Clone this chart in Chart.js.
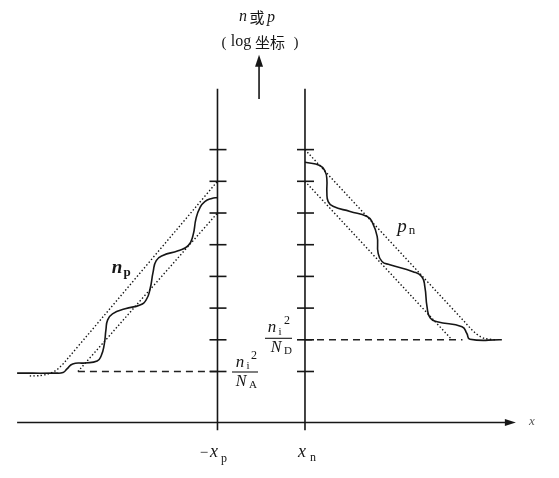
<!DOCTYPE html>
<html>
<head>
<meta charset="utf-8">
<script src="https://cdn.jsdelivr.net/npm/chart.js@4.4.0/dist/chart.umd.min.js"></script>
<style>
  html, body { margin: 0; padding: 0; background: #fff; }
  canvas { display: block; }
</style>
</head>
<body>
<canvas id="chart" width="559" height="478"></canvas>
<script>
// x: position (depletion edges at -1 and +1), y: log10 of carrier density
const tickLevels = [4, 5, 6, 7, 8, 9, 10, 11];
const edgeX = [-1, 1];

// minority electrons on the p side (solid, staircase)
const npX   = [-5.58, -4.71, -4.53, -4.44, -4.31, -4.03, -3.75, -3.66, -3.59, -3.55, -3.51, -3.40, -3.11, -2.77, -2.63, -2.54, -2.47, -2.40, -2.25, -1.90, -1.67, -1.56, -1.49, -1.40, -1.29, -1.13, -1.00];
const npLog = [3.95, 3.95, 3.97, 4.08, 4.24, 4.27, 4.33, 4.49, 4.84, 5.31, 5.63, 5.82, 5.98, 6.10, 6.26, 6.61, 7.15, 7.50, 7.66, 7.81, 7.97, 8.29, 8.83, 9.17, 9.36, 9.46, 9.49];

// minority holes on the n side
const pnX   = [1.00, 1.34, 1.46, 1.50, 1.50, 1.53, 1.64, 2.03, 2.42, 2.53, 2.65, 2.67, 2.76, 2.94, 3.47, 3.67, 3.74, 3.79, 3.86, 4.02, 4.59, 4.70, 4.77, 5.50];
const pnLog = [10.60, 10.50, 10.31, 10.06, 9.65, 9.36, 9.21, 9.05, 8.89, 8.73, 8.26, 7.75, 7.47, 7.37, 7.15, 6.99, 6.67, 6.04, 5.69, 5.57, 5.41, 5.20, 5.02, 5.00];

// dotted envelopes
const npUpperX   = [-5.29, -5.06, -4.88, -4.71, -4.60, -4.49, -1.00];
const npUpperLog = [3.86, 3.87, 3.92, 4.02, 4.14, 4.30, 10.00];
const npLowerX   = [-4.19, -1.00];
const npLowerLog = [4.00, 9.00];
const pnUpperX   = [1.00, 4.66, 4.77, 4.89, 5.00, 5.11, 5.34];
const pnUpperLog = [11.00, 5.55, 5.38, 5.22, 5.11, 5.04, 5.00];
const pnLowerX   = [1.00, 4.36];
const pnLowerLog = [10.00, 5.00];

// equilibrium levels ni^2/NA and ni^2/ND (dashed)
const eqAX = [-4.19, -1.00], eqALog = [4, 4];
const eqDX = [1.00, 4.60],   eqDLog = [5, 5];

const pts = (xs, ys) => xs.map((v, i) => ({ x: v, y: ys[i] }));

const ink = '#161616';
const serif = '"Liberation Serif", "DejaVu Serif", serif';
const cjk = '"Noto Sans CJK SC", sans-serif';

const overlay = {
  id: 'overlay',
  afterDatasetsDraw(chart) {
    const { ctx, scales: { x, y } } = chart;
    const X = v => x.getPixelForValue(v);
    const Y = v => y.getPixelForValue(v);
    ctx.save();
    ctx.strokeStyle = ink;
    ctx.fillStyle = ink;
    ctx.lineWidth = 1.6;

    // x axis with arrow
    const ay = Y(2.39);
    ctx.beginPath();
    ctx.moveTo(X(-5.58), ay);
    ctx.lineTo(X(5.82) - 9, ay);
    ctx.stroke();
    ctx.beginPath();
    ctx.moveTo(X(5.82), ay);
    ctx.lineTo(X(5.82) - 11, ay - 3.5);
    ctx.lineTo(X(5.82) - 11, ay + 3.5);
    ctx.closePath();
    ctx.fill();

    // vertical lines at the depletion edges, with decade ticks
    edgeX.forEach(u => {
      const px = X(u);
      ctx.beginPath();
      ctx.moveTo(px, Y(2.15));
      ctx.lineTo(px, Y(12.92));
      ctx.stroke();
      tickLevels.forEach(k => {
        ctx.beginPath();
        ctx.moveTo(px - 8, Y(k));
        ctx.lineTo(px + 9, Y(k));
        ctx.stroke();
      });
    });

    // upward arrow for the log axis
    const ux = X(-0.05);
    ctx.beginPath();
    ctx.moveTo(ux, Y(12.6));
    ctx.lineTo(ux, Y(13.99) + 10);
    ctx.stroke();
    ctx.beginPath();
    ctx.moveTo(ux, Y(13.99));
    ctx.lineTo(ux - 4, Y(13.99) + 12);
    ctx.lineTo(ux + 4, Y(13.99) + 12);
    ctx.closePath();
    ctx.fill();

    const t = (s, px, py, font, align = 'center', base = 'middle') => {
      ctx.font = font;
      ctx.textAlign = align;
      ctx.textBaseline = base;
      ctx.fillText(s, px, py);
    };

    // title
    t('n', 243, 17, 'italic 16px ' + serif);
    t('或', 257, 17, '15px ' + cjk);
    t('p', 271, 18, 'italic 16px ' + serif);
    t('(', 224, 43, '15px ' + serif);
    t('log', 241, 42, '16px ' + serif);
    t('坐标', 270, 42, '15px ' + cjk);
    t(')', 296, 43, '15px ' + serif);

    // curve labels
    t('n', 117, 268, 'bold italic 19px ' + serif);
    t('p', 127, 273, 'bold 13px ' + serif);
    t('p', 402, 227, 'italic 19px ' + serif);
    t('n', 412, 231, '13px ' + serif);

    // ni^2/NA
    const fa = Y(4);
    t('n', 240, fa - 9, 'italic 17px ' + serif);
    t('i', 248, fa - 5, '11px ' + serif);
    t('2', 254, fa - 16, '12px ' + serif);
    ctx.lineWidth = 1.1;
    ctx.beginPath();
    ctx.moveTo(232, fa + 0.5);
    ctx.lineTo(258, fa + 0.5);
    ctx.stroke();
    t('N', 241, fa + 10, 'italic 16px ' + serif);
    t('A', 253, fa + 14, '11px ' + serif);

    // ni^2/ND
    const fd = Y(5) - 2;
    t('n', 272, fd - 10, 'italic 17px ' + serif);
    t('i', 280, fd - 6, '11px ' + serif);
    t('2', 287, fd - 17, '12px ' + serif);
    ctx.beginPath();
    ctx.moveTo(265, fd + 0.5);
    ctx.lineTo(292, fd + 0.5);
    ctx.stroke();
    t('N', 276, fd + 10, 'italic 16px ' + serif);
    t('D', 288, fd + 13, '11px ' + serif);

    // x axis labels
    t('\u2212', 204, 453, '15px ' + serif);
    t('x', 214, 452, 'italic 18px ' + serif);
    t('p', 224, 459, '12px ' + serif);
    t('x', X(1) - 3, 452, 'italic 18px ' + serif);
    t('n', X(1) + 8, 458, '12px ' + serif);
    ctx.fillStyle = '#555';
    t('x', 532, 422, 'italic 13px ' + serif);
    ctx.restore();
  }
};

const solid = { borderColor: ink, borderWidth: 1.6, tension: 0.5 };
const dotted = { borderColor: '#111', borderWidth: 1.4, borderDash: [1.4, 2.2], tension: 0.3 };
const dashed = { borderColor: '#222', borderWidth: 1.4, borderDash: [7, 5], tension: 0 };

new Chart(document.getElementById('chart'), {
  type: 'scatter',
  data: {
    datasets: [
      { label: 'eqA', data: pts(eqAX, eqALog), ...dashed },
      { label: 'eqD', data: pts(eqDX, eqDLog), ...dashed },
      { label: 'npUpper', data: pts(npUpperX, npUpperLog), ...dotted },
      { label: 'npLower', data: pts(npLowerX, npLowerLog), ...dotted },
      { label: 'pnUpper', data: pts(pnUpperX, pnUpperLog), ...dotted },
      { label: 'pnLower', data: pts(pnLowerX, pnLowerLog), ...dotted },
      { label: 'np', data: pts(npX, npLog), ...solid },
      { label: 'pn', data: pts(pnX, pnLog), ...solid }
    ].map(d => ({ ...d, showLine: true, pointRadius: 0, fill: false }))
  },
  options: {
    responsive: false,
    animation: false,
    layout: { padding: 0 },
    plugins: { legend: { display: false }, tooltip: { enabled: false } },
    scales: {
      x: { type: 'linear', display: false, min: -5.971, max: 6.806 },
      y: { type: 'linear', display: false, min: 0.64, max: 15.72 }
    }
  },
  plugins: [overlay]
});
</script>
</body>
</html>
